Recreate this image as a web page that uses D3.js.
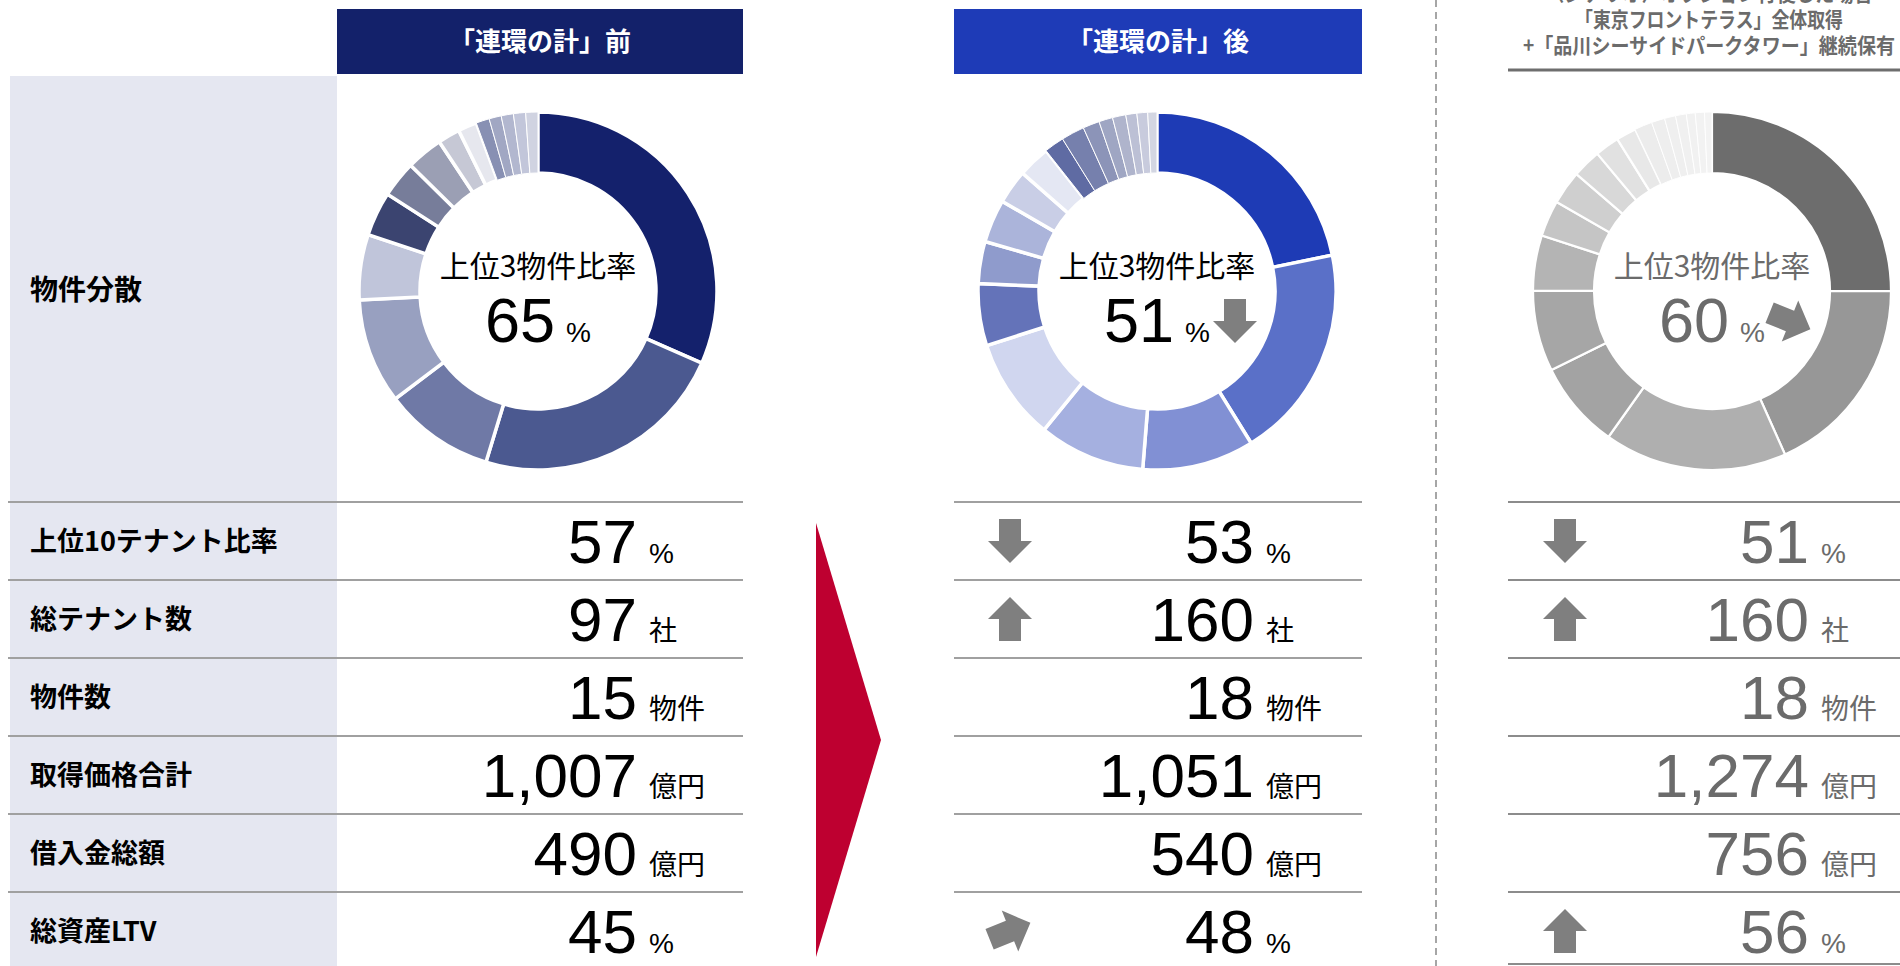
<!DOCTYPE html>
<html>
<head>
<meta charset="utf-8">
<script src="https://cdn.jsdelivr.net/npm/d3@7"></script>
<style>
  body { margin: 0; background: #fff; }
  svg { display: block; }
  .num { font-family: "Liberation Sans", Arial, sans-serif; }
  .jp { font-family: "Noto Sans CJK JP", sans-serif; }
</style>
</head>
<body>
<svg id="chart"></svg>
<script>
//#region data

const headerBefore = "「連環の計」前";
const headerAfter = "「連環の計」後";
const headerScenario = [
  "〈シナリオ〉オプション行使した場合",
  "「東京フロントテラス」全体取得",
  "+「品川シーサイドパークタワー」継続保有",
];

const donutLabel = "物件分散";
const donutCaption = "上位3物件比率";
const top3 = [65, 51, 60];

const rowLabels = ["上位10テナント比率", "総テナント数", "物件数", "取得価格合計", "借入金総額", "総資産LTV"];
const units = ["%", "社", "物件", "億円", "億円", "%"];
const valuesBefore = [57, 97, 15, 1007, 490, 45];
const valuesAfter = [53, 160, 18, 1051, 540, 48];
const valuesScenario = [51, 160, 18, 1274, 756, 56];
const arrowsAfter = ["down", "up", null, null, null, "upright"];
const arrowsScenario = ["down", "up", null, null, null, "up"];
const donutArrows = [null, "down", "downright"];

// 物件ごとの取得価格比率 (%)
const sharesBefore = [31.6, 23.1, 10.0, 9.5, 5.9, 4.0, 3.3, 3.3, 2.0, 1.7, 1.2, 1.1, 1.1, 1.1, 1.1];
const sharesAfter = [21.8, 19.4, 10.1, 9.6, 9.2, 5.6, 3.8, 3.9, 3.1, 2.9, 1.8, 2.1, 1.5, 1.25, 1.2, 1.0, 0.97, 0.83];
const sharesScenario = [25.0, 18.3, 16.5, 7.9, 7.3, 5.0, 3.25, 3.05, 2.6, 2.2, 1.8, 1.6, 1.2, 1.0, 0.97, 0.8, 0.83, 0.67];

//#endregion

//#region styles
const coloursBefore = ["#14216c", "#4b5990", "#6f79a6", "#98a0c0", "#c0c5da", "#3b4470", "#777d9a", "#9b9fb4",
  "#c6c8d5", "#e6e7ee", "#8890b3", "#a1a7c3", "#b2b7cf", "#c2c6da", "#d0d3e1"];
const coloursAfter = ["#1e3bb5", "#5a70c8", "#8190d4", "#a5b0e0", "#d0d6ef", "#6473b9", "#8f9bcc", "#abb4da",
  "#c9cee6", "#e4e7f3", "#5f6ba3", "#7680ad", "#8c94b8", "#9fa6c3", "#afb4cc", "#bcc0d5", "#c8cbdd", "#d3d6e2"];
const coloursScenario = ["#6d6d6d", "#979797", "#afafaf", "#a3a3a3", "#a6a6a6", "#b4b4b4", "#c5c5c5", "#cfcfcf",
  "#d8d8d8", "#e1e1e1", "#e8e8e8", "#ececec", "#eeeeee", "#efefef", "#f0f0f0", "#f1f1f1", "#f2f2f2", "#f3f3f3"];
//#endregion

const width = 1900, height = 966;
const svg = d3.select("#chart").attr("width", width).attr("height", height);

const columns = [
  { x: 337, w: 406, header: headerBefore, fill: "#13216a", values: valuesBefore, arrows: null,
    shares: sharesBefore, colours: coloursBefore, main: 10, gap: 3.5, ink: "#000" },
  { x: 954, w: 408, header: headerAfter, fill: "#1e3bb7", values: valuesAfter, arrows: arrowsAfter,
    shares: sharesAfter, colours: coloursAfter, main: 10, gap: 3.5, ink: "#000" },
  { x: 1509, w: 391, header: null, fill: null, values: valuesScenario, arrows: arrowsScenario,
    shares: sharesScenario, colours: coloursScenario, main: 11, gap: 2.2, ink: "#6b6b6b" },
];
const donutCx = [538, 1157, 1712];

// rows
const yRow = d3.scaleBand().domain(rowLabels).range([502, 970]);
const fmt = d3.format(",");

// left label panel
svg.append("rect")
  .attr("x", 10).attr("y", 76)
  .attr("width", 327).attr("height", height - 76)
  .attr("fill", "#e5e7f1");

svg.append("text")
  .attr("class", "jp")
  .attr("x", 30).attr("y", 290 + 10)
  .attr("font-size", 28).attr("font-weight", "bold")
  .text(donutLabel);

svg.selectAll(".rowLabel")
  .data(rowLabels)
  .enter()
  .append("text")
  .attr("class", "rowLabel jp")
  .attr("x", 30)
  .attr("y", (d) => yRow(d) + yRow.bandwidth() / 2 + 10)
  .attr("font-size", 27)
  .attr("font-weight", "bold")
  .text((d) => d);

// arrow pointing down, centered on 0,0
const arrowPath = "M-11,-22 L11,-22 L11,0 L22,0 L0,22 L-22,0 L-11,0 Z";
const arrowRot = { down: 0, up: 180, upright: -112, downright: -68 };
const drawArrow = (g, x, y, dir) => {
  g.append("path")
    .attr("d", arrowPath)
    .attr("fill", "#7f7f7f")
    .attr("transform", `translate(${x},${y}) rotate(${arrowRot[dir]})`);
};

// separator lines
const lineStart = [8, 954, 1508];
columns.forEach((c, ci) => {
  svg.selectAll(null)
    .data(rowLabels)
    .enter()
    .append("line")
    .attr("x1", lineStart[ci])
    .attr("x2", c.x + c.w)
    .attr("y1", (d) => yRow(d))
    .attr("y2", (d) => yRow(d))
    .attr("stroke", ci == 2 ? "#8c8c8c" : "#a0a0a0")
    .attr("stroke-width", 2);
});
svg.append("line")
  .attr("x1", 1508).attr("x2", 1900)
  .attr("y1", 964).attr("y2", 964)
  .attr("stroke", "#8c8c8c").attr("stroke-width", 2);

// dashed divider
svg.append("line")
  .attr("x1", 1436).attr("x2", 1436)
  .attr("y1", 0).attr("y2", height)
  .attr("stroke", "#a6a6a6").attr("stroke-width", 2)
  .attr("stroke-dasharray", "7,5");

// headers
columns.slice(0, 2).forEach((c) => {
  svg.append("rect")
    .attr("x", c.x).attr("y", 9)
    .attr("width", c.w).attr("height", 65)
    .attr("fill", c.fill);
  svg.append("text")
    .attr("class", "jp")
    .attr("x", c.x + c.w / 2).attr("y", 51)
    .attr("text-anchor", "middle")
    .attr("fill", "#fff")
    .attr("font-size", 26).attr("font-weight", "bold")
    .text(c.header);
});

// scenario header: first line runs off the top as in the source slide
const scenWidths = [328, 268, 372];
svg.selectAll(".scenHead")
  .data(headerScenario)
  .enter()
  .append("text")
  .attr("class", "scenHead jp")
  .attr("x", 1709)
  .attr("y", (d, i) => 1 + i * 26)
  .attr("text-anchor", "middle")
  .attr("fill", "#6b6b6b")
  .attr("font-size", 21)
  .attr("font-weight", "bold")
  .attr("textLength", (d, i) => scenWidths[i])
  .attr("lengthAdjust", "spacingAndGlyphs")
  .text((d) => d);
svg.append("line")
  .attr("x1", 1508).attr("x2", 1900)
  .attr("y1", 70).attr("y2", 70)
  .attr("stroke", "#6e6e6e").attr("stroke-width", 3);

// red transition arrow
svg.append("path")
  .attr("d", "M816,523 L881,740 L816,957 Z")
  .attr("fill", "#be0030");

// donuts
const pie = d3.pie().sort(null).value((d) => d);
const arc = d3.arc().innerRadius(118).outerRadius(179);

columns.forEach((c, ci) => {
  const cx = donutCx[ci], cy = 291;
  const g = svg.append("g").attr("transform", `translate(${cx},${cy})`);

  g.selectAll("path")
    .data(pie(c.shares))
    .enter()
    .append("path")
    .attr("d", arc)
    .attr("fill", (d, i) => c.colours[i])
    .attr("stroke", "#fff")
    .attr("stroke-width", (d, i) => (i < c.main ? c.gap : 1));

  g.append("text")
    .attr("class", "jp")
    .attr("x", 0).attr("y", -14)
    .attr("text-anchor", "middle")
    .attr("font-size", 30)
    .attr("fill", c.ink)
    .text(donutCaption);
  g.append("text")
    .attr("class", "num")
    .attr("x", 17).attr("y", 51)
    .attr("text-anchor", "end")
    .attr("font-size", 63)
    .attr("fill", c.ink)
    .text(top3[ci]);
  g.append("text")
    .attr("class", "num")
    .attr("x", 28).attr("y", 51)
    .attr("font-size", 28)
    .attr("fill", c.ink)
    .text("%");
  if (donutArrows[ci]) drawArrow(g, 78, 30, donutArrows[ci]);
});

// table values
columns.forEach((c, ci) => {
  const g = svg.append("g").attr("transform", `translate(${c.x},0)`);
  const rows = g.selectAll(".row")
    .data(c.values)
    .enter()
    .append("g")
    .attr("transform", (d, i) => `translate(0,${yRow(rowLabels[i])})`);

  rows.append("text")
    .attr("class", "num")
    .attr("x", 300).attr("y", 61)
    .attr("text-anchor", "end")
    .attr("font-size", 62)
    .attr("fill", c.ink)
    .text((d) => fmt(d));
  rows.append("text")
    .attr("class", (d, i) => (units[i] == "%" ? "num" : "jp"))
    .attr("x", 312).attr("y", 61)
    .attr("font-size", 28)
    .attr("fill", c.ink)
    .text((d, i) => units[i]);

  if (c.arrows) {
    rows.each(function (d, i) {
      if (c.arrows[i]) drawArrow(d3.select(this), 56, 39, c.arrows[i]);
    });
  }
});
</script>
</body>
</html>
